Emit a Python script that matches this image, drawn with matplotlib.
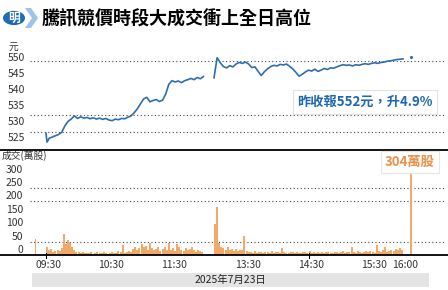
import matplotlib
matplotlib.use("Agg")
import matplotlib.pyplot as plt
from matplotlib.patches import Circle, Polygon, Rectangle

plt.rcParams['font.family'] = ['Noto Sans CJK TC', 'DejaVu Sans']

# ---- data ----
title = "騰訊競價時段大成交衝上全日高位"
date_label = "2025年7月23日"
price_note = "昨收報552元，升4.9%"
vol_note = "304萬股"

am_times = ["09:30", "09:31", "09:33", "09:36", "09:39", "09:42", "09:45", "09:48", "09:51", "09:54",
            "09:57", "10:00", "10:03", "10:06", "10:09", "10:12", "10:15", "10:18", "10:21", "10:24",
            "10:27", "10:30", "10:33", "10:36", "10:39", "10:42", "10:45", "10:48", "10:51", "10:54",
            "10:57", "11:00", "11:03", "11:06", "11:09", "11:12", "11:15", "11:18", "11:21", "11:24",
            "11:27", "11:30", "11:33", "11:36", "11:39", "11:42", "11:45", "11:48", "11:51", "11:54",
            "11:57", "12:00"]
am_price = [528.2, 525.4, 526.6, 527.0, 527.4, 527.8, 528.5, 530.5, 531.9, 532.6,
            533.6, 532.8, 533.3, 532.9, 533.1, 532.7, 533.0, 532.6, 532.9, 532.5,
            532.8, 532.3, 532.1, 532.6, 532.4, 532.8, 532.7, 533.2, 533.6, 534.6,
            535.8, 537.4, 538.9, 539.4, 538.0, 538.4, 538.7, 538.1, 538.5, 540.4,
            543.5, 544.6, 544.2, 544.5, 544.0, 544.6, 544.9, 545.3, 544.9, 545.6,
            545.2, 545.9]

pm_times = ["13:00", "13:03", "13:06", "13:09", "13:12", "13:15", "13:18", "13:21", "13:24", "13:27",
            "13:30", "13:33", "13:36", "13:39", "13:42", "13:45", "13:48", "13:51", "13:54", "13:57",
            "14:00", "14:03", "14:06", "14:09", "14:12", "14:15", "14:18", "14:21", "14:24", "14:27",
            "14:30", "14:33", "14:36", "14:39", "14:42", "14:45", "14:48", "14:51", "14:54", "14:57",
            "15:00", "15:03", "15:06", "15:09", "15:12", "15:15", "15:18", "15:21", "15:24", "15:27",
            "15:30", "15:33", "15:36", "15:39", "15:42", "15:45", "15:48", "15:51", "15:54", "15:57",
            "16:00"]
pm_price = [545.5, 551.8, 550.2, 549.0, 548.6, 549.3, 548.9, 549.8, 550.3, 550.0,
            550.4, 549.8, 548.7, 548.9, 547.5, 546.2, 547.4, 548.3, 549.0, 549.4,
            549.2, 549.7, 549.5, 549.8, 549.1, 548.3, 547.2, 546.0, 546.6, 547.3,
            547.9, 547.6, 548.2, 547.5, 547.9, 548.4, 548.1, 548.6, 548.5, 548.9,
            549.3, 549.6, 549.4, 549.5, 549.2, 549.6, 549.4, 549.7, 549.9, 549.7,
            550.0, 550.2, 550.0, 550.3, 550.4, 550.7, 550.8, 551.0, 551.2, 551.3,
            551.4]
close_time = "16:08"
close_price = 552.0

# volume, 2-minute bars (萬股)
am_vol_start = "09:30"
am_vol = [30, 18, 22, 12, 15, 20, 14, 25, 78, 40, 56, 45, 28, 18, 12,
          10, 8, 12, 6, 9, 7, 11, 5, 8, 10, 6, 9, 12, 7, 5,
          8, 10, 6, 9, 14, 11, 37, 8, 12, 16, 10, 22, 30, 18, 25,
          40, 28, 35, 20, 44, 26, 18, 24, 30, 16, 22, 28, 20, 45, 18,
          25, 15, 42, 30, 20, 14, 26, 18, 22, 30, 17, 12, 20, 15, 10]
pm_vol_start = "13:00"
pm_vol = [115, 180, 45, 30, 25, 20, 28, 18, 22, 15, 24, 16, 20, 18, 70,
          14, 10, 12, 8, 15, 9, 11, 13, 7, 10, 12, 8, 14, 9, 11,
          10, 8, 27, 12, 9, 7, 10, 13, 8, 11, 6, 9, 12, 10, 8,
          14, 7, 10, 9, 12, 8, 11, 6, 10, 13, 9, 7, 12, 10, 8,
          11, 14, 9, 12, 10, 30, 13, 9, 15, 11, 8, 12, 14, 10, 16,
          12, 9, 37, 14, 11, 18, 30, 12, 16, 20, 14, 22, 18, 25, 20]
preopen_time, preopen_vol = "09:20", 60
auction_time, auction_vol = "16:08", 304

price_ticks = [550, 545, 540, 535, 530, 525]
price_grid = [550.9, 533.9, 528.6]
vol_ticks = [300, 250, 200, 150, 100, 50, 0]
vol_grid = [250, 200, 50]
x_ticks = ["09:30", "10:30", "11:30", "13:30", "14:30", "15:30", "16:00"]


def pos(t):
    h, m = map(int, t.split(":"))
    mins = h * 60 + m
    if mins <= 12 * 60 + 30:
        return mins - 570
    return mins - 780 + 160


def add_mins(t, k):
    h, m = map(int, t.split(":"))
    mins = h * 60 + m + k
    return "%02d:%02d" % (mins // 60, mins % 60)


W, H = 448, 290
fig = plt.figure(figsize=(W / 100, H / 100), dpi=100)
fig.patch.set_facecolor("white")

px_per_min = 1.05
x0_px = 46
xlim = (-x0_px / px_per_min, (W - x0_px) / px_per_min)


def fy(px):
    return 1 - px / H


grid_kw = dict(color="#444444", lw=0.8, ls=(0, (1, 2.2)), zorder=0)
gx = ((30 - x0_px) / px_per_min, (446 - x0_px) / px_per_min)
blue = "#2f6db0"

# ---- top: price ----
ax1 = fig.add_axes([0, fy(150), 1, 110 / H])
ax1.set_xlim(*xlim)
ax1.set_ylim(525 - 6.6 / 3.2, 525 + 103.4 / 3.2)
ax1.plot([pos(t) for t in am_times], am_price, color=blue, lw=1.2)
ax1.plot([pos(t) for t in pm_times], pm_price, color=blue, lw=1.2)
ax1.plot([pos(close_time)], [close_price], ".", color=blue, ms=2.5)
for g in price_grid:
    ax1.plot(gx, [g, g], **grid_kw)
for v in price_ticks:
    ax1.text(25 / W, v, str(v), transform=ax1.get_yaxis_transform(), fontsize=7.5,
             color="#333333", ha="right", va="bottom")
ax1.text(9 / W, 555.3, "元", transform=ax1.get_yaxis_transform(), fontsize=7,
         color="#333333", va="center", ha="left")
ax1.axis("off")
ax1.plot([0, 1], [0, 0], transform=ax1.transAxes, color="black", lw=1.3, clip_on=False)

fig.text(365 / W, fy(102), price_note, ha="center", va="center", fontsize=9.5,
         fontweight="bold", color="#1f68b0",
         bbox=dict(boxstyle="square,pad=0.35", fc="white", ec="#e2e2e2", lw=0.8))

# ---- bottom: volume ----
ax2 = fig.add_axes([0, fy(255), 1, 105 / H])
ax2.set_xlim(*xlim)
ax2.set_ylim(0, 105 / 0.268)
am_x = [pos(add_mins(am_vol_start, 2 * i)) + 1 for i in range(len(am_vol))]
pm_x = [pos(add_mins(pm_vol_start, 2 * i)) + 1 for i in range(len(pm_vol))]
bar_c = "#f2a866"
ax2.bar(am_x, am_vol, width=1.9, color=bar_c, lw=0)
ax2.bar(pm_x, pm_vol, width=1.9, color=bar_c, lw=0)
ax2.bar([pos(preopen_time), pos(auction_time)], [preopen_vol, auction_vol], width=1.9,
        color=bar_c, lw=0)
for g in vol_grid:
    ax2.plot(gx, [g, g], **grid_kw)
for v in vol_ticks:
    ax2.text(23 / W, v, str(v), transform=ax2.get_yaxis_transform(), fontsize=7.5,
             color="#333333", ha="right", va="bottom")
ax2.text(2 / W, 1 - 6 / 105, "成交(萬股)", transform=ax2.transAxes, fontsize=7,
         color="#333333", ha="left", va="center")
ax2.axis("off")
ax2.plot([0, 1], [0, 0], transform=ax2.transAxes, color="black", lw=1.3, clip_on=False)
for t in x_ticks:
    ax2.text(pos(t) + 2, -10 / 105, t, transform=ax2.get_xaxis_transform(), fontsize=7.5,
             color="#333333", ha="center", va="center")
for t in ["09:30", "14:30"]:
    ax2.plot([pos(t)] * 2, [-0.025, 0.02], transform=ax2.get_xaxis_transform(),
             color="black", lw=0.8, clip_on=False)

fig.text(410 / W, fy(162), vol_note, ha="center", va="center", fontsize=9.5,
         fontweight="bold", color="#e8914a",
         bbox=dict(boxstyle="square,pad=0.3", fc="white", ec="#e6e6e6", lw=0.8))

# ---- date banner ----
fig.patches.append(Rectangle((32 / W, fy(287)), (429 - 32) / W, 14 / H,
                             transform=fig.transFigure, fc="#e4e4e4", ec="none"))
fig.text(230 / W, fy(280), date_label, ha="center", va="center", fontsize=7.5, color="#222222")

# ---- title with logo ----
fig.patches.append(Polygon([(25 / W, fy(8)), (31 / W, fy(8)), (38 / W, fy(18)),
                            (31 / W, fy(28)), (25 / W, fy(28)), (32 / W, fy(18))],
                           closed=True, transform=fig.transFigure, fc="#9fc4e8", ec="none"))
fig.patches.append(Circle((14 / W, fy(18)), 11 / W, transform=fig.transFigure,
                          fc="#1f6cb5", ec="none"))
fig.text(14 / W, fy(18), "明", ha="center", va="center", fontsize=8.5, fontweight="bold",
         color="white")
fig.text(42 / W, fy(18), title, ha="left", va="center", fontsize=13, fontweight="bold",
         color="black")

fig.savefig("out.png", dpi=100)
